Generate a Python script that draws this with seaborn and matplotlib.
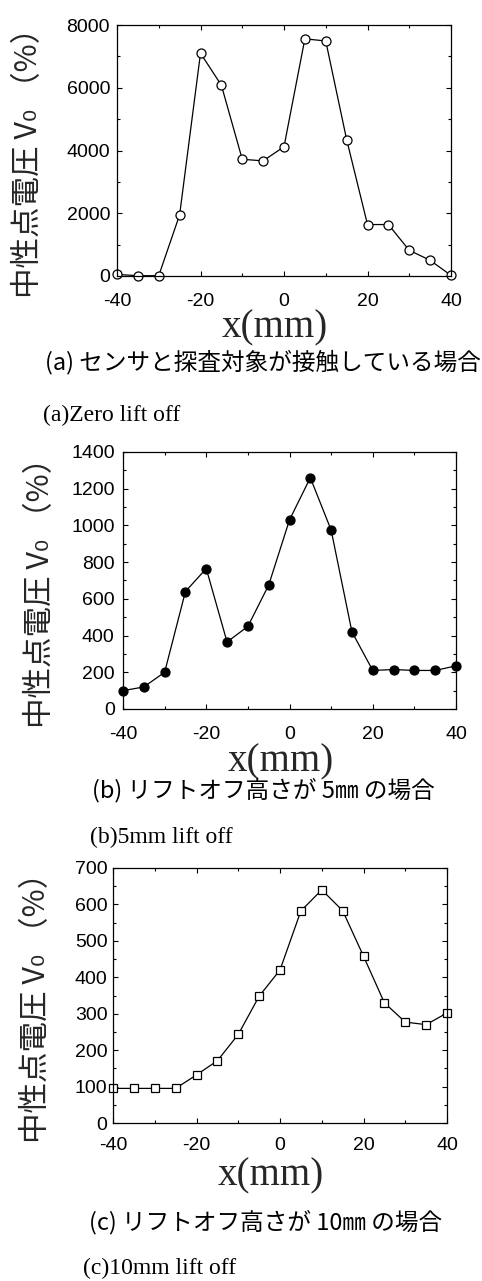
import matplotlib
matplotlib.use("Agg")
import matplotlib.pyplot as plt
from matplotlib.ticker import MultipleLocator
import seaborn as sns

sns.set_theme(style="ticks")
plt.rcParams['font.family'] = ['Liberation Sans', 'Noto Sans CJK JP', 'DejaVu Sans']
plt.rcParams['axes.unicode_minus'] = False

# Data
x_mm = [-40, -35, -30, -25, -20, -15, -10, -5, 0, 5, 10, 15, 20, 25, 30, 35, 40]
v0_zero = [50, 10, 10, 1950, 7100, 6080, 3720, 3670, 4120, 7560, 7490, 4350, 1640, 1640, 820, 500, 20]
v0_5mm = [100, 120, 200, 640, 765, 365, 450, 675, 1030, 1260, 975, 420, 210, 215, 210, 210, 235]
v0_10mm = [95, 95, 95, 95, 132, 171, 243, 348, 420, 582, 640, 583, 458, 330, 277, 270, 302]

ylabel = "中性点電圧 V₀ （%）"
captions_jp = ["(a) センサと探査対象が接触している場合",
               "(b) リフトオフ高さが 5㎜ の場合",
               "(c) リフトオフ高さが 10㎜ の場合"]
captions_en = ["(a)Zero lift off", "(b)5mm lift off", "(c)10mm lift off"]

W, H = 482, 1281
fig = plt.figure(figsize=(W / 100, H / 100), dpi=100)


def add_axes_px(left, right, top, bottom):
    return fig.add_axes([left / W, 1 - bottom / H, (right - left) / W, (bottom - top) / H])


panels = [
    # axes box px, data, ylim, major, minor, marker style, label x, tick pads, caption positions
    dict(box=(117, 451, 25, 276), y=v0_zero, ylim=(0, 8000), major=2000, minor=1000,
         marker='o', mfc='white', ms=6.5, ylx=-0.265, xpad=12, ypad=5,
         jp=(45, 362), en=(43, 415)),
    dict(box=(123, 456, 452, 709), y=v0_5mm, ylim=(0, 1400), major=200, minor=100,
         marker='o', mfc='black', ms=6.5, ylx=-0.249, xpad=12, ypad=6,
         jp=(92, 790), en=(90, 837)),
    dict(box=(113, 447, 868, 1123), y=v0_10mm, ylim=(0, 700), major=100, minor=50,
         marker='s', mfc='white', ms=5.5, ylx=-0.228, xpad=10, ypad=4,
         jp=(89, 1222), en=(83, 1268)),
]

for i, p in enumerate(panels):
    ax = add_axes_px(*p['box'])
    sns.lineplot(x=x_mm, y=p['y'], ax=ax, color='black', linewidth=0.9,
                 marker=p['marker'], markersize=p['ms'], markerfacecolor=p['mfc'],
                 markeredgecolor='black', markeredgewidth=0.9, clip_on=False)
    ax.set_xlim(-40, 40)
    ax.set_ylim(*p['ylim'])
    ax.xaxis.set_major_locator(MultipleLocator(20))
    ax.xaxis.set_minor_locator(MultipleLocator(10))
    ax.yaxis.set_major_locator(MultipleLocator(p['major']))
    ax.yaxis.set_minor_locator(MultipleLocator(p['minor']))
    ax.tick_params(which='both', direction='in', top=True, right=True, colors='black')
    ax.tick_params(which='major', length=3.5, width=0.8)
    ax.tick_params(which='minor', length=2, width=0.8)
    ax.tick_params(axis='x', labelsize=14, pad=p['xpad'])
    ax.tick_params(axis='y', labelsize=14, pad=p['ypad'])
    for s in ax.spines.values():
        s.set_color('black')
        s.set_linewidth(0.9)

    ax.set_xlabel("x(mm)", family='Liberation Serif', fontsize=28, va='center')
    ax.xaxis.set_label_coords(0.473, -0.207)
    ax.set_ylabel(ylabel, family=['Noto Sans CJK JP', 'DejaVu Sans'], fontsize=22, va='center')
    ax.yaxis.set_label_coords(p['ylx'], 0.48)

    fig.text(p['jp'][0] / W, 1 - p['jp'][1] / H, captions_jp[i],
             family=['Noto Sans CJK JP', 'DejaVu Sans'], fontsize=17,
             ha='left', va='center', color='black')
    fig.text(p['en'][0] / W, 1 - p['en'][1] / H, captions_en[i],
             family='Liberation Serif', fontsize=17, ha='left', va='center', color='black')

fig.savefig("out.png", dpi=100, facecolor='white')
